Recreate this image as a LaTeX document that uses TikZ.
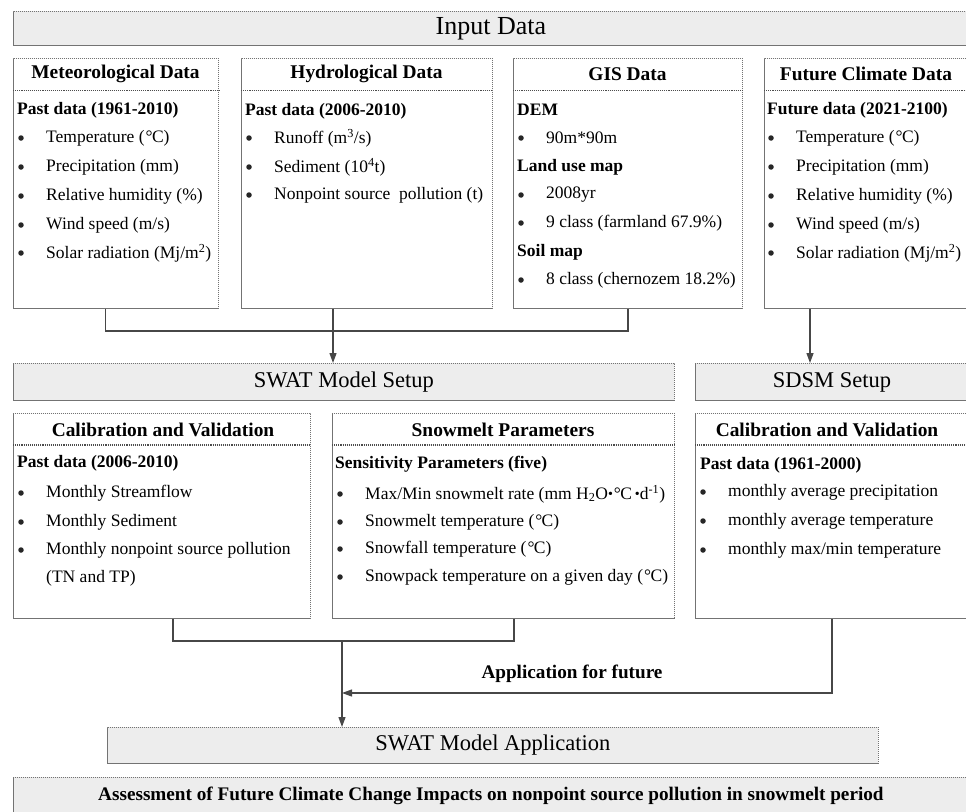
\documentclass[tikz,border=0pt]{standalone}
\usepackage{fontspec}
\setmainfont{Liberation Serif}
\usetikzlibrary{arrows.meta}
\newcommand{\degc}{\kern1pt°\kern-0.6pt C}
\newcommand{\mdot}{{\fontsize{14}{14}\selectfont\raisebox{0.5pt}{•}}}
\newcount\tcnt
\newcommand{\bitem}[3]{%
  \global\advance\tcnt by 1
  \node[dotmark] (b\the\tcnt) at (#1+8,#2) {};
  \node[itemtext] (t\the\tcnt) at (#1+33,#2) {#3};}
\newcommand{\subh}[3]{%
  \global\advance\tcnt by 1
  \node[subtext] (s\the\tcnt) at (#1+4,#2) {#3};}
\tikzset{
  box/.style={draw=black!55, dash pattern=on 1.1pt off 0.9pt, line width=0.9pt,
    fill=white, anchor=north west, inner sep=0pt, rectangle},
  bar/.style={box, fill=black!7},
  hdr/.style={font=\fontsize{19.4}{22}\selectfont\bfseries, inner sep=0pt},
  subtext/.style={font=\fontsize{17.5}{20}\selectfont\bfseries, anchor=west, inner sep=0pt},
  itemtext/.style={font=\fontsize{17.5}{20}\selectfont, anchor=west, inner sep=0pt},
  dotmark/.style={circle, fill=black!85, inner sep=0pt, minimum size=5.5pt},
  divider/.style={draw=black!70, densely dotted, line width=1.1pt},
  conn/.style={draw=black!72, line width=1.2pt},
  arr/.style={conn, -{Triangle[length=10pt,width=7pt]}},
}
\begin{document}
\begin{tikzpicture}[x=1pt,y=-1pt]
\useasboundingbox (0,0) rectangle (966,811);
% top bar
\node[bar, minimum width=955pt, minimum height=34pt, font=\fontsize{26}{30}\selectfont] (input) at (13,11) {Input Data};
% data boxes
\node[box, minimum width=205pt, minimum height=250pt] (met) at (13,58) {};
\node[box, minimum width=251pt, minimum height=250pt] (hydro) at (241,58) {};
\node[box, minimum width=229pt, minimum height=250pt] (gis) at (513,58) {};
\node[box, minimum width=204pt, minimum height=250pt] (future) at (764,58) {};
\foreach \b in {met,hydro,gis,future}{
  \draw[divider] ([yshift=-32.5pt]\b.north west) -- ([yshift=-32.5pt]\b.north east);
}
\node[hdr] (hmet) at (115.5,74) {Meteorological Data};
\node[hdr] (hhyd) at (366.5,74) {Hydrological Data};
\node[hdr] (hgis) at (627.5,74) {GIS Data};
\node[hdr] (hfut) at (866,74) {Future Climate Data};
% meteorological
\subh{13}{110}{Past data (1961-2010)}
\bitem{13}{138}{Temperature (\degc)}
\bitem{13}{167}{Precipitation (mm)}
\bitem{13}{196}{Relative humidity (\%)}
\bitem{13}{225}{Wind speed (m/s)}
\bitem{13}{253}{Solar radiation (Mj/m\textsuperscript{2})}
% hydrological
\subh{241}{111}{Past data (2006-2010)}
\bitem{241}{138}{Runoff (m\textsuperscript{3}/s)}
\bitem{241}{167}{Sediment (10\textsuperscript{4}t)}
\bitem{241}{195}{Nonpoint source\ \ pollution (t)}
% GIS
\subh{513}{110}{DEM}
\bitem{513}{138}{90m*90m}
\subh{513}{167}{Land use map}
\bitem{513}{195}{2008yr}
\bitem{513}{223}{9 class (farmland 67.9\%)}
\subh{513}{252}{Soil map}
\bitem{513}{280}{8 class (chernozem 18.2\%)}
% future
\subh{763}{110}{Future data (2021-2100)}
\bitem{763}{138}{Temperature (\degc)}
\bitem{763}{167}{Precipitation (mm)}
\bitem{763}{196}{Relative humidity (\%)}
\bitem{763}{225}{Wind speed (m/s)}
\bitem{763}{253}{Solar radiation (Mj/m\textsuperscript{2})}
% setup bars
\node[bar, minimum width=661pt, minimum height=37pt, font=\fontsize{22.5}{26}\selectfont] (setup) at (13,363) {SWAT Model Setup};
\node[bar, minimum width=273pt, minimum height=37pt, font=\fontsize{22.5}{26}\selectfont] (sdsm) at (695,363) {SDSM Setup};
% lower boxes
\node[box, minimum width=297pt, minimum height=205pt] (calib) at (13,413) {};
\node[box, minimum width=342pt, minimum height=205pt] (snow) at (332,413) {};
\node[box, minimum width=273pt, minimum height=205pt] (sdcal) at (695,413) {};
\foreach \b in {calib,snow,sdcal}{
  \draw[divider] ([yshift=-32pt]\b.north west) -- ([yshift=-32pt]\b.north east);
}
\node[hdr] (hcal) at (163,430) {Calibration and Validation};
\node[hdr] (hsnow) at (503,430) {Snowmelt Parameters};
\node[hdr] (hsd) at (827,430) {Calibration and Validation};
\subh{13}{463}{Past data (2006-2010)}
\bitem{13}{493}{Monthly Streamflow}
\bitem{13}{522}{Monthly Sediment}
\bitem{13}{550}{Monthly nonpoint source pollution}
\node[itemtext] (tntp) at (46,578) {(TN and TP)};
\subh{331}{464}{Sensitivity Parameters (five)}
\bitem{332}{494}{Max/Min snowmelt rate (mm H\textsubscript{2}O\mdot\degc\,\mdot d\textsuperscript{-1})}
\bitem{332}{522}{Snowmelt temperature (\degc)}
\bitem{332}{549}{Snowfall temperature (\degc)}
\bitem{332}{577}{Snowpack temperature on a given day (\degc)}
\subh{696}{465}{Past data (1961-2000)}
\bitem{695}{492}{monthly average precipitation}
\bitem{695}{521}{monthly average temperature}
\bitem{695}{550}{monthly max/min temperature}
% application
\node[bar, minimum width=771pt, minimum height=36pt, font=\fontsize{22.5}{26}\selectfont] (app) at (107,727) {SWAT Model Application};
\node[bar, minimum width=955pt, minimum height=37pt, font=\fontsize{19.2}{22}\selectfont\bfseries] (assess) at (13,777) {Assessment of Future Climate Change Impacts on nonpoint source pollution in snowmelt period};
\node[font=\fontsize{19.2}{22}\selectfont\bfseries, inner sep=0pt] (lab) at (572,674) {Application for future};
% connectors
\coordinate (j1) at (333,331);
\draw[conn] ([xshift=-10.5pt]met.south) |- (j1) -| (gis.south);
\draw[arr] (hydro.south -| j1) -- (setup.north -| j1);
\coordinate (fx) at (810,331);
\draw[arr] (future.south -| fx) -- (sdsm.north -| fx);
\coordinate (c1) at (173,641);
\coordinate (c2) at (514,641);
\coordinate (j2) at (342,641);
\draw[conn] (calib.south -| c1) -- (c1) -- (c2) -- (snow.south -| c2);
\draw[arr] (j2) -- (app.north -| j2);
\coordinate (c3) at (832,693);
\coordinate (j3) at (342,693);
\draw[arr] (sdcal.south -| c3) -- (c3) -- (j3);
\end{tikzpicture}
\end{document}
